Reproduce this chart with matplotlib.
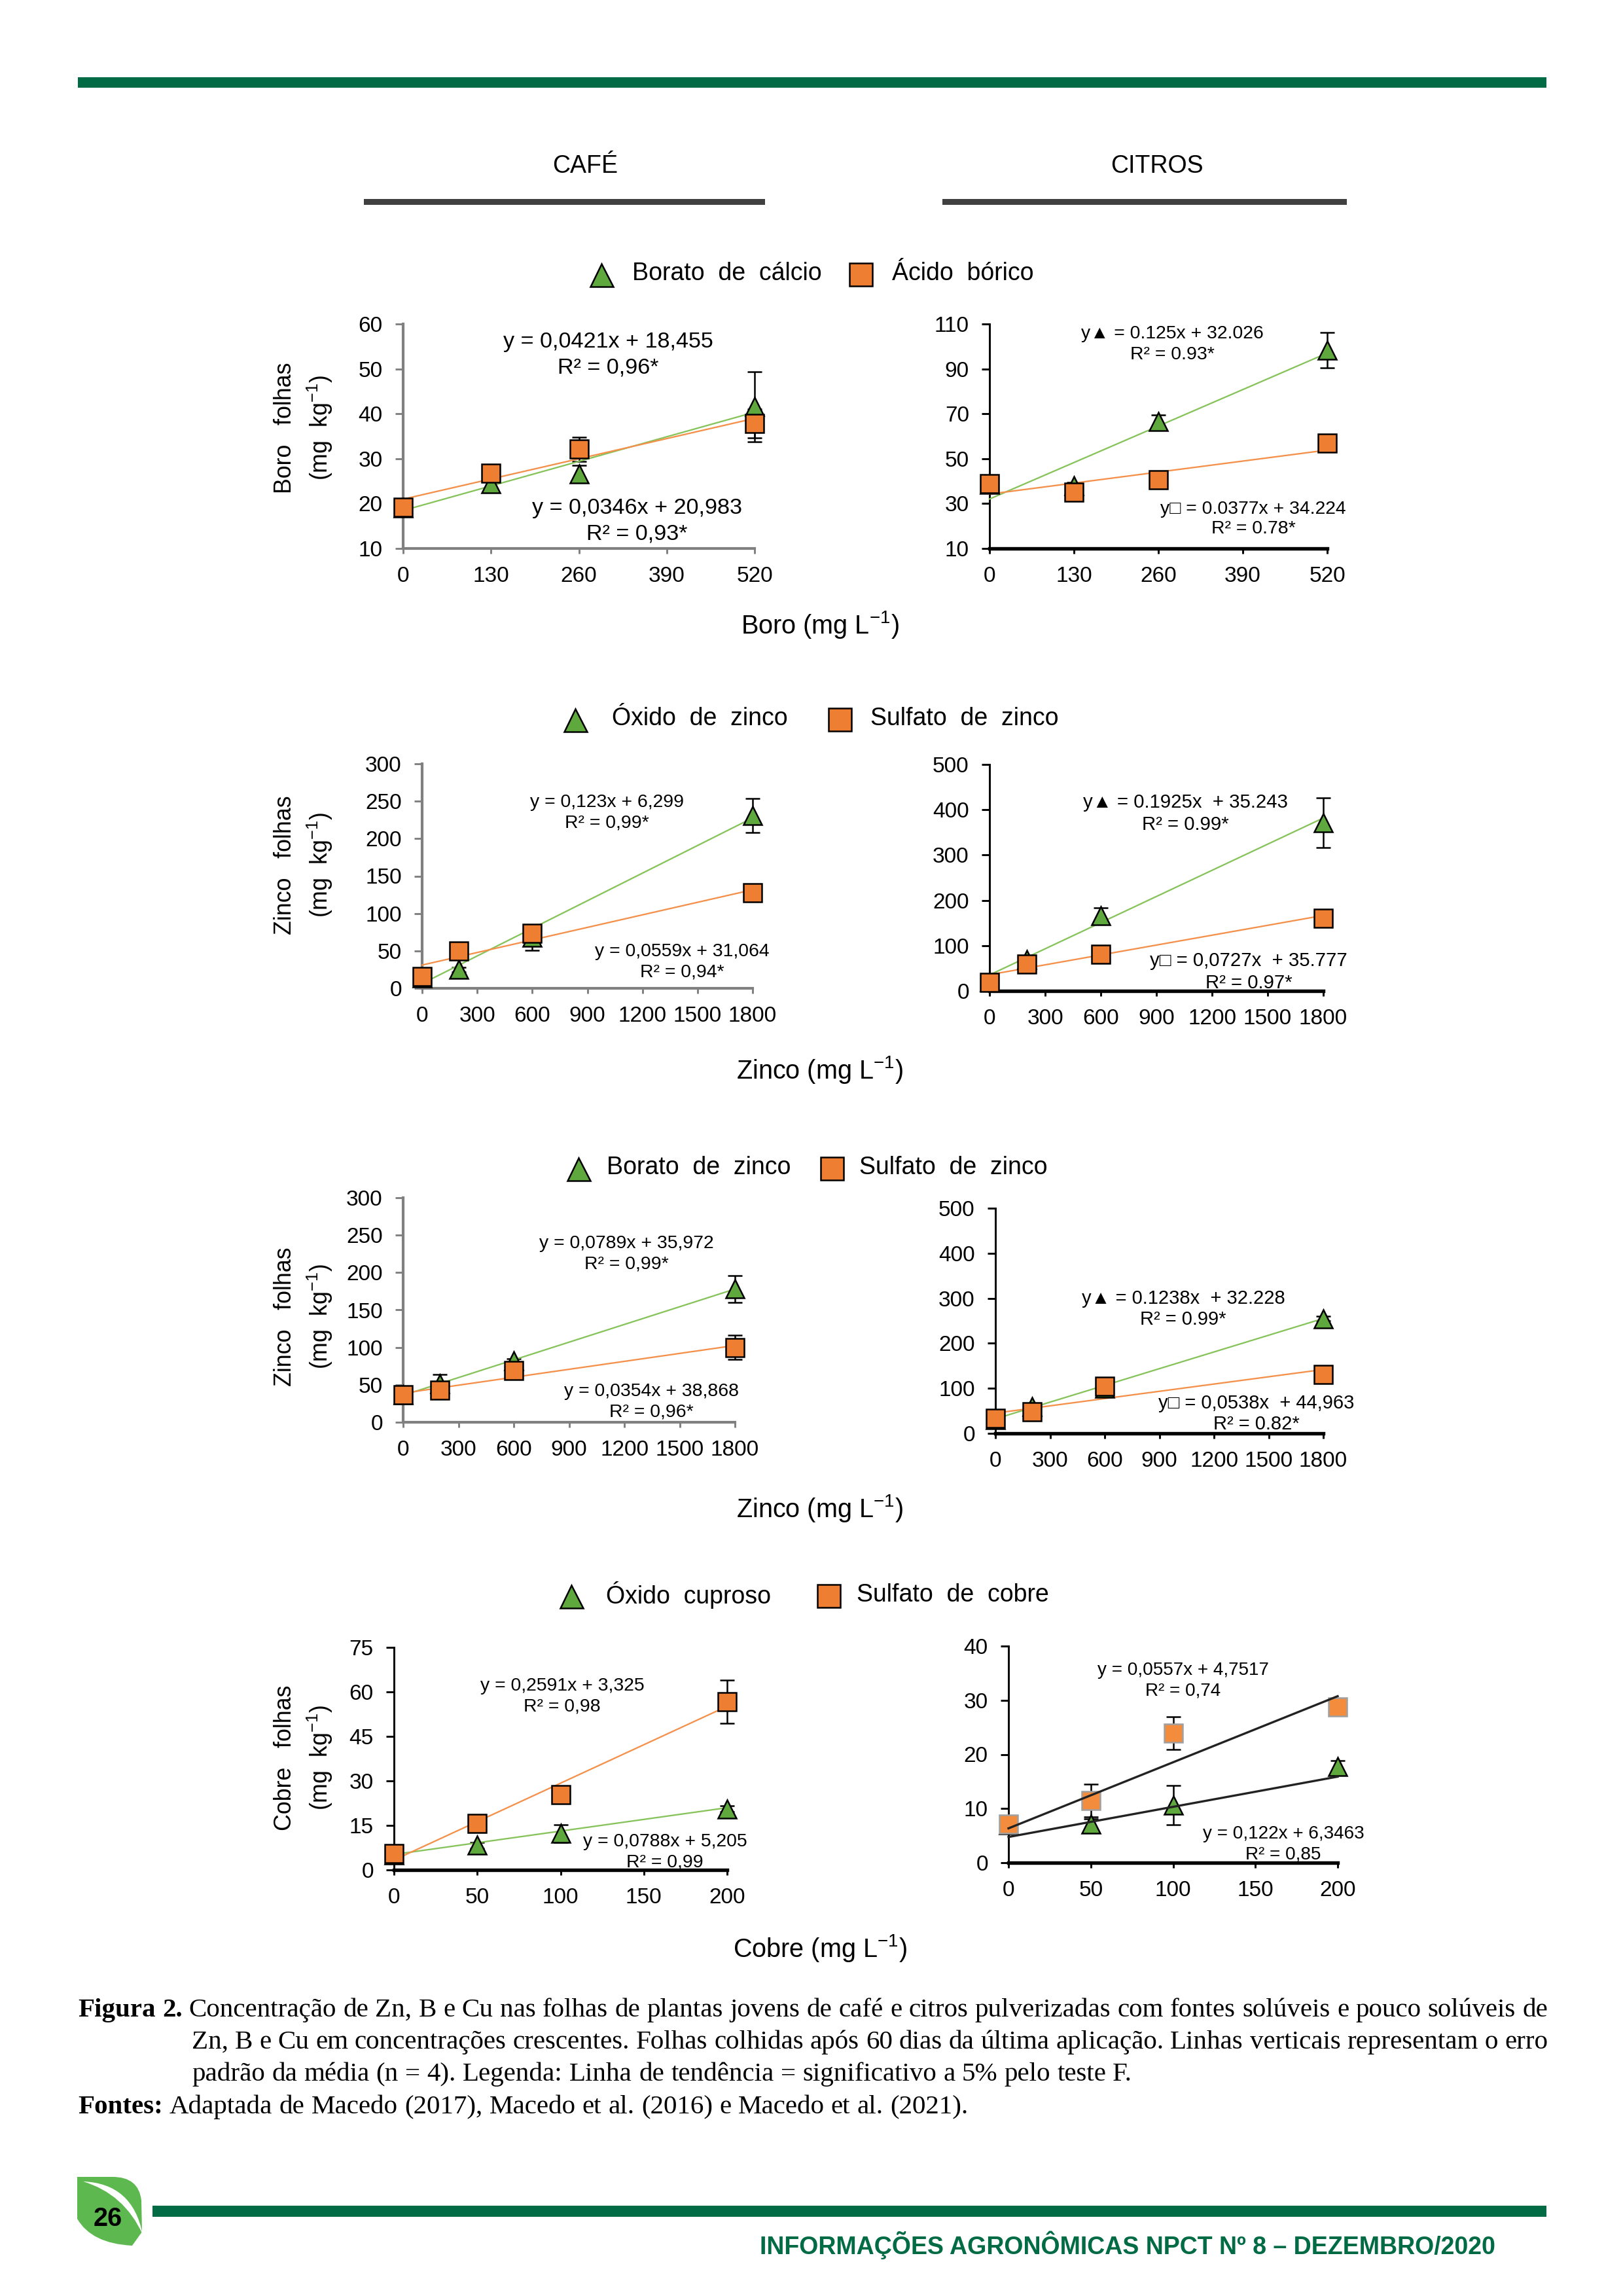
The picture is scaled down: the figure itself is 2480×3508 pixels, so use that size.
import numpy as np
import matplotlib
matplotlib.use('Agg')
import matplotlib.pyplot as plt
from matplotlib.patches import Rectangle, PathPatch
from matplotlib.path import Path

# ---------------- DATA ----------------
boro_x = [0, 130, 260, 520]
zinco_x = [0, 200, 600, 1800]
cobre_x = [0, 50, 100, 200]

boro_xticks = [0, 130, 260, 390, 520]
zinco_xticks = [0, 300, 600, 900, 1200, 1500, 1800]
cobre_xticks = [0, 50, 100, 150, 200]

# Row 1: Boro
cafe_b_borato = [19.0, 24.4, 26.6, 41.6]
cafe_b_borato_err = [0.8, 1.0, 1.9, 7.8]
cafe_b_acido = [19.2, 26.7, 32.1, 37.9]
cafe_b_acido_err = [1.0, 1.0, 2.7, 3.2]
citros_b_borato = [38.5, 38.0, 66.5, 98.3]
citros_b_borato_err = [1.0, 1.5, 3.0, 7.8]
citros_b_acido = [39.0, 35.2, 40.6, 56.8]
citros_b_acido_err = [2.0, 2.0, 2.0, 1.5]

# Row 2: Zinco (óxido / sulfato)
cafe_zn_oxido = [14.0, 25.0, 68.0, 231.0]
cafe_zn_oxido_err = [1.0, 3.0, 17.0, 23.0]
cafe_zn_sulfato = [16.0, 50.0, 73.5, 128.0]
cafe_zn_sulfato_err = [2.0, 3.0, 5.0, 5.0]
citros_zn_oxido = [20.0, 70.0, 166.0, 372.0]
citros_zn_oxido_err = [3.0, 8.0, 18.0, 55.0]
citros_zn_sulfato = [19.0, 59.0, 80.5, 161.0]
citros_zn_sulfato_err = [3.0, 5.0, 5.0, 6.0]

# Row 3: Zinco (borato / sulfato)
cafe_zn_borato = [37.0, 52.0, 82.0, 178.0]
cafe_zn_borato_err = [2.0, 12.0, 3.0, 18.0]
cafe_zn_sulfato2 = [36.5, 42.5, 69.0, 100.0]
cafe_zn_sulfato2_err = [3.0, 3.0, 3.0, 16.0]
citros_zn_borato = [30.0, 60.0, 100.0, 255.0]
citros_zn_borato_err = [3.0, 6.0, 5.0, 5.0]
citros_zn_sulfato2 = [33.0, 48.0, 104.0, 131.0]
citros_zn_sulfato2_err = [3.0, 3.0, 4.0, 4.0]

# Row 4: Cobre
cafe_cu_oxido = [5.0, 8.3, 12.3, 20.6]
cafe_cu_oxido_err = [0.5, 1.0, 3.0, 1.0]
cafe_cu_sulfato = [5.6, 15.6, 25.4, 56.7]
cafe_cu_sulfato_err = [1.0, 1.0, 1.0, 7.2]
citros_cu_oxido = [7.0, 7.1, 10.6, 17.8]
citros_cu_oxido_err = [0.5, 1.0, 3.6, 1.0]
citros_cu_sulfato = [7.1, 11.5, 23.9, 28.8]
citros_cu_sulfato_err = [0.5, 3.0, 3.0, 0.5]

# fitted trend lines (slope, intercept) as printed in the chart
fit_cafe_b_borato = (0.0421, 18.455)
fit_cafe_b_acido = (0.0346, 20.983)
fit_citros_b_borato = (0.125, 32.026)
fit_citros_b_acido = (0.0377, 34.224)
fit_cafe_zn_oxido = (0.123, 6.299)
fit_cafe_zn_sulfato = (0.0559, 31.064)
fit_citros_zn_oxido = (0.1925, 35.243)
fit_citros_zn_sulfato = (0.0727, 35.777)
fit_cafe_zn_borato = (0.0789, 35.972)
fit_cafe_zn_sulfato2 = (0.0354, 38.868)
fit_citros_zn_borato = (0.1238, 32.228)
fit_citros_zn_sulfato2 = (0.0538, 44.963)
fit_cafe_cu_sulfato = (0.2591, 3.325)
fit_cafe_cu_oxido = (0.0788, 5.205)
fit_citros_cu_sulfato = (0.122, 6.3463)
fit_citros_cu_oxido = (0.0557, 4.7517)

column_titles = ['CAFÉ', 'CITROS']
legend_labels = [('Borato  de  cálcio', 'Ácido  bórico'),
                 ('Óxido  de  zinco', 'Sulfato  de  zinco'),
                 ('Borato  de  zinco', 'Sulfato  de  zinco'),
                 ('Óxido  cuproso', 'Sulfato  de  cobre')]
row_ylabels = ['Boro   folhas', 'Zinco   folhas', 'Zinco   folhas', 'Cobre   folhas']
unit_ylabel = '(mg  kg$^{-1}$)'
row_xlabels = ['Boro (mg L$^{-1}$)', 'Zinco (mg L$^{-1}$)',
               'Zinco (mg L$^{-1}$)', 'Cobre (mg L$^{-1}$)']

eq_texts = [
    ('y = 0,0421x + 18,455', 'R² = 0,96*', 'y = 0,0346x + 20,983', 'R² = 0,93*'),
    ('y▲ = 0.125x + 32.026', 'R² = 0.93*', 'y□ = 0.0377x + 34.224', 'R² = 0.78*'),
    ('y = 0,123x + 6,299', 'R² = 0,99*', 'y = 0,0559x + 31,064', 'R² = 0,94*'),
    ('y▲ = 0.1925x  + 35.243', 'R² = 0.99*', 'y□ = 0,0727x  + 35.777', 'R² = 0.97*'),
    ('y = 0,0789x + 35,972', 'R² = 0,99*', 'y = 0,0354x + 38,868', 'R² = 0,96*'),
    ('y▲ = 0.1238x  + 32.228', 'R² = 0.99*', 'y□ = 0,0538x  + 44,963', 'R² = 0.82*'),
    ('y = 0,2591x + 3,325', 'R² = 0,98', 'y = 0,0788x + 5,205', 'R² = 0,99'),
    ('y = 0,0557x + 4,7517', 'R² = 0,74', 'y = 0,122x + 6,3463', 'R² = 0,85'),
]

caption_l1 = 'Concentração de Zn, B e Cu nas folhas de plantas jovens de café e citros pulverizadas com fontes solúveis e pouco solúveis de'
caption_l2 = 'Zn, B e Cu em concentrações crescentes. Folhas colhidas após 60 dias da última aplicação. Linhas verticais representam o erro'
caption_l3 = 'padrão da média (n = 4). Legenda: Linha de tendência = significativo a 5% pelo teste F.'
caption_l4 = 'Adaptada de Macedo (2017), Macedo et al. (2016) e Macedo et al. (2021).'
footer_text = 'INFORMAÇÕES AGRONÔMICAS NPCT Nº 8 – DEZEMBRO/2020'
page_number = '26'

# ---------------- STYLE ----------------
plt.rcParams['font.family'] = ['Liberation Sans', 'DejaVu Sans']
plt.rcParams['mathtext.fontset'] = 'custom'
plt.rcParams['mathtext.rm'] = 'Liberation Sans'
plt.rcParams['mathtext.default'] = 'regular'

W, H = 2480, 3508
DKGREEN = '#006B45'
LEAF = '#5DB84F'
TRI = '#5FA83E'
SQ = '#EE7F32'
LGREEN = '#86C35A'
LORANGE = '#F4904A'
GRAY = '#808080'

fig = plt.figure(figsize=(W / 300, H / 300), dpi=300)
ov = fig.add_axes([0, 0, 1, 1])
ov.set_xlim(0, W)
ov.set_ylim(H, 0)
ov.axis('off')

# header
ov.add_patch(Rectangle((119, 118), 2363 - 119, 16, color=DKGREEN, lw=0))
ov.text(894, 254, column_titles[0], ha='center', va='center', fontsize=9)
ov.text(1768, 254, column_titles[1], ha='center', va='center', fontsize=9)
ov.add_patch(Rectangle((556, 304), 1169 - 556, 9, color='#404040', lw=0))
ov.add_patch(Rectangle((1440, 304), 2058 - 1440, 9, color='#404040', lw=0))


def panel(box, xvals, xticks, yticks, spine_color, s_tri, e_tri, s_sq, e_sq,
          fit_tri, fit_sq, line_tri_c, line_sq_c, lines_on_top=False,
          sq_edge='black', sq_face=SQ):
    x0, x1, yt, yb = box
    ax = fig.add_axes([x0 / W, 1 - yb / H, (x1 - x0) / W, (yb - yt) / H])
    ax.set_xlim(xticks[0], xticks[-1])
    ax.set_ylim(yticks[0], yticks[-1])
    ax.patch.set_alpha(0)
    for s in ['top', 'right']:
        ax.spines[s].set_visible(False)
    black = spine_color == 'black'
    ax.spines['left'].set_color(spine_color)
    ax.spines['bottom'].set_color(spine_color)
    ax.spines['left'].set_linewidth(0.7 if black else 1.0)
    ax.spines['bottom'].set_linewidth(1.3 if black else 1.0)
    ax.set_xticks(xticks)
    ax.set_yticks(yticks)
    ax.set_xticklabels([str(t) for t in xticks])
    ax.set_yticklabels([str(t) for t in yticks])
    ax.tick_params(axis='y', direction='out', length=2.9, width=0.7,
                   color=spine_color, labelsize=8, pad=4.6)
    ax.tick_params(axis='x', direction='out', length=2.0, width=0.7,
                   color=spine_color, labelsize=8, pad=4.5)
    xs = np.array([min(xvals), max(xvals)], dtype=float)
    lz = 6 if lines_on_top else 3
    lw = 0.8 if lines_on_top else 0.55
    ax.plot(xs, fit_tri[0] * xs + fit_tri[1], color=line_tri_c, lw=lw,
            zorder=lz, clip_on=False)
    ax.plot(xs, fit_sq[0] * xs + fit_sq[1], color=line_sq_c, lw=lw,
            zorder=lz, clip_on=False)
    ax.errorbar(xvals, s_tri, yerr=e_tri, fmt='none', ecolor='black',
                elinewidth=0.6, capsize=2.6, capthick=0.6, zorder=2, clip_on=False)
    ax.errorbar(xvals, s_sq, yerr=e_sq, fmt='none', ecolor='black',
                elinewidth=0.6, capsize=2.6, capthick=0.6, zorder=2, clip_on=False)
    ax.plot(xvals, s_tri, ls='none', marker='^', ms=6.6, mfc=TRI, mec='black',
            mew=0.6, zorder=4, clip_on=False)
    ax.plot(xvals, s_sq, ls='none', marker='s', ms=6.6, mfc=sq_face, mec=sq_edge,
            mew=0.6, zorder=5, clip_on=False)
    return ax


# Row 1
panel((616, 1153, 495, 838), boro_x, boro_xticks, [10, 20, 30, 40, 50, 60], GRAY,
      cafe_b_borato, cafe_b_borato_err, cafe_b_acido, cafe_b_acido_err,
      fit_cafe_b_borato, fit_cafe_b_acido, LGREEN, LORANGE)
panel((1512, 2028, 495, 838), boro_x, boro_xticks, [10, 30, 50, 70, 90, 110], 'black',
      citros_b_borato, citros_b_borato_err, citros_b_acido, citros_b_acido_err,
      fit_citros_b_borato, fit_citros_b_acido, LGREEN, LORANGE)
# Row 2
panel((645, 1150, 1167, 1510), zinco_x, zinco_xticks, [0, 50, 100, 150, 200, 250, 300], GRAY,
      cafe_zn_oxido, cafe_zn_oxido_err, cafe_zn_sulfato, cafe_zn_sulfato_err,
      fit_cafe_zn_oxido, fit_cafe_zn_sulfato, LGREEN, LORANGE)
panel((1512, 2022, 1168, 1514), zinco_x, zinco_xticks, [0, 100, 200, 300, 400, 500], 'black',
      citros_zn_oxido, citros_zn_oxido_err, citros_zn_sulfato, citros_zn_sulfato_err,
      fit_citros_zn_oxido, fit_citros_zn_sulfato, LGREEN, LORANGE)
# Row 3
panel((616, 1123, 1830, 2173), zinco_x, zinco_xticks, [0, 50, 100, 150, 200, 250, 300], GRAY,
      cafe_zn_borato, cafe_zn_borato_err, cafe_zn_sulfato2, cafe_zn_sulfato2_err,
      fit_cafe_zn_borato, fit_cafe_zn_sulfato2, LGREEN, LORANGE)
panel((1521, 2022, 1846, 2190), zinco_x, zinco_xticks, [0, 100, 200, 300, 400, 500], 'black',
      citros_zn_borato, citros_zn_borato_err, citros_zn_sulfato2, citros_zn_sulfato2_err,
      fit_citros_zn_borato, fit_citros_zn_sulfato2, LGREEN, LORANGE)
# Row 4
panel((602, 1111, 2517, 2857), cobre_x, cobre_xticks, [0, 15, 30, 45, 60, 75], 'black',
      cafe_cu_oxido, cafe_cu_oxido_err, cafe_cu_sulfato, cafe_cu_sulfato_err,
      fit_cafe_cu_oxido, fit_cafe_cu_sulfato, LGREEN, LORANGE)
panel((1541, 2044, 2515, 2846), cobre_x, cobre_xticks, [0, 10, 20, 30, 40], 'black',
      citros_cu_oxido, citros_cu_oxido_err, citros_cu_sulfato, citros_cu_sulfato_err,
      fit_citros_cu_oxido, fit_citros_cu_sulfato, '#222222', '#222222',
      lines_on_top=True, sq_edge='#A0A0A0', sq_face='#F38C3C')

# equation annotations (positions in page pixels)
eq_pos = [
    ((929, 523), (929, 562), (973, 776), (973, 816), 8.2),
    ((1791, 510), (1791, 542), (1915, 778), (1915, 808), 6.8),
    ((927, 1226), (927, 1258), (1042, 1454), (1042, 1486), 6.8),
    ((1811, 1226), (1811, 1260), (1908, 1468), (1908, 1502), 7.05),
    ((957, 1900), (957, 1931), (995, 2126), (995, 2158), 6.8),
    ((1808, 1984), (1808, 2016), (1920, 2144), (1920, 2176), 7.0),
    ((859, 2576), (859, 2608), (1016, 2814), (1016, 2846), 6.8),
    ((1808, 2552), (1808, 2584), (1961, 2802), (1961, 2834), 6.7),
]
for texts, pos in zip(eq_texts, eq_pos):
    fs = pos[4]
    for t, p in zip(texts, pos[:4]):
        ov.text(p[0], p[1], t, ha='center', va='center', fontsize=fs)

# legends
leg_pos = [(919, 966, 1315, 1363, 418), (879, 935, 1283, 1330, 1098),
           (884, 927, 1271, 1313, 1784), (873, 926, 1266, 1309, 2437)]
for (l1, l2), (tx, t1x, sx, t2x, y) in zip(legend_labels, leg_pos):
    ov.plot([tx], [y + 2], marker='^', ms=8.4, mfc=TRI, mec='black', mew=0.6,
            ls='none', clip_on=False)
    ov.plot([sx], [y + 1], marker='s', ms=8.4, mfc=SQ, mec='black', mew=0.6,
            ls='none', clip_on=False)
    ov.text(t1x, y, l1, ha='left', va='center', fontsize=9)
    ov.text(t2x, y, l2, ha='left', va='center', fontsize=9)

# axis labels
ylab_y = [654, 1322, 2012, 2686]
xlab_y = [955, 1634, 2305, 2977]
for lab, yy in zip(row_ylabels, ylab_y):
    ov.text(435, yy, lab, rotation=90, ha='center', va='center', fontsize=8.6)
    ov.text(489, yy, unit_ylabel, rotation=90, ha='center', va='center', fontsize=8.6)
for lab, yy in zip(row_xlabels, xlab_y):
    ov.text(1253, yy, lab, ha='center', va='center', fontsize=9.5)

# ---------------- caption (justified) ----------------
renderer = fig.canvas.get_renderer()
SERIF = 'Liberation Serif'


def measure(s, fs, bold=False):
    t = ov.text(0, 0, s, fontsize=fs, family=SERIF,
                fontweight='bold' if bold else 'normal')
    w = t.get_window_extent(renderer).width
    t.remove()
    return w


def place_line(words, xl, xr, yb, fs, justify):
    objs, widths = [], []
    for w, b in words:
        t = ov.text(0, yb, w, fontsize=fs, family=SERIF, va='baseline', ha='left',
                    fontweight='bold' if b else 'normal')
        objs.append(t)
        widths.append(t.get_window_extent(renderer).width)
    space = measure('a a', fs) - measure('aa', fs)
    if justify and len(words) > 1:
        gap = (xr - xl - sum(widths)) / (len(words) - 1)
    else:
        gap = space
    x = xl
    for t, w in zip(objs, widths):
        t.set_x(x)
        x += w + gap


XL, XI, XR = 119, 293, 2365
w1 = [('Figura', True), ('2.', True)] + [(w, False) for w in caption_l1.split()]
fs0 = 10.0
nat = sum(measure(w, fs0, b) for w, b in w1) + (len(w1) - 1) * (measure('a a', fs0) - measure('aa', fs0))
fs_cap = min(10.0, fs0 * (XR - XL) / nat)
place_line(w1, XL, XR, 3081, fs_cap, True)
place_line([(w, False) for w in caption_l2.split()], XI, XR, 3130, fs_cap, True)
place_line([(w, False) for w in caption_l3.split()], XI, XR, 3179, fs_cap, False)
place_line([('Fontes:', True)] + [(w, False) for w in caption_l4.split()], XL, XR, 3229, fs_cap, False)

# ---------------- footer ----------------
ov.add_patch(Rectangle((233, 3370), 2363 - 233, 17, color=DKGREEN, lw=0))
leaf_verts = [(118, 3326), (172, 3326), (212, 3326), (216, 3362), (217, 3410),
              (202, 3431), (140, 3428), (118, 3390), (118, 3326), (118, 3326)]
leaf_codes = [Path.MOVETO, Path.LINETO, Path.CURVE3, Path.CURVE3, Path.LINETO,
              Path.LINETO, Path.CURVE3, Path.CURVE3, Path.LINETO, Path.CLOSEPOLY]
ov.add_patch(PathPatch(Path(leaf_verts, leaf_codes), facecolor=LEAF, lw=0))
stripe_verts = [(127, 3333), (203, 3336), (218, 3414), (190, 3352), (127, 3333), (127, 3333)]
stripe_codes = [Path.MOVETO, Path.CURVE3, Path.CURVE3, Path.CURVE3, Path.CURVE3, Path.CLOSEPOLY]
ov.add_patch(PathPatch(Path(stripe_verts, stripe_codes), facecolor='white', lw=0))
ov.text(165, 3390, page_number, ha='center', va='center', fontsize=9.5,
        fontweight='bold', color='black')

tw = ov.text(0, 0, footer_text, fontsize=9, fontweight='bold')
wf = tw.get_window_extent(renderer).width
tw.remove()
fs_f = 9 * (2285 - 1160) / wf
ov.text(2285, 3430, footer_text, ha='right', va='center', fontsize=fs_f,
        fontweight='bold', color=DKGREEN)

fig.savefig('out.png', dpi=300)
